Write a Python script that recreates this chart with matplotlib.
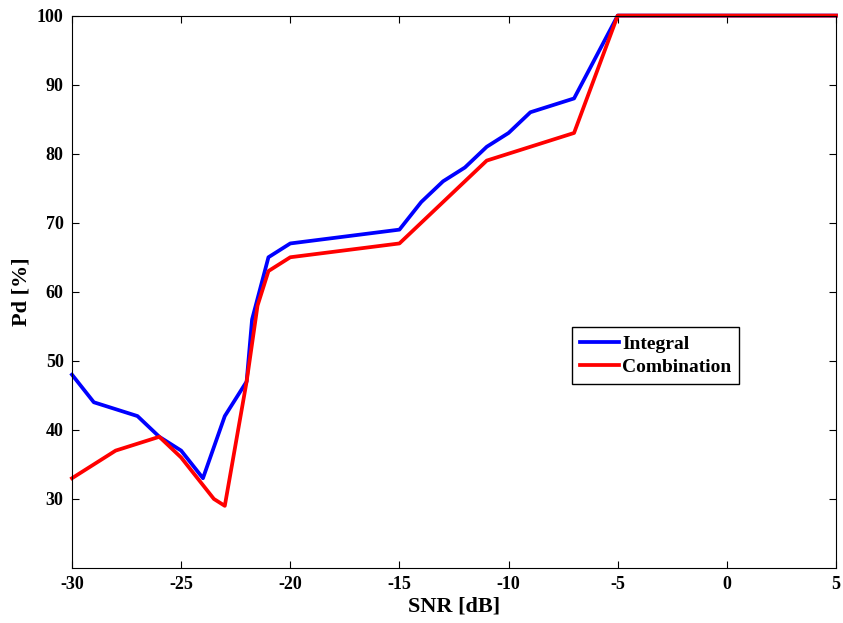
import matplotlib.pyplot as plt

plt.rcParams['font.family'] = 'Liberation Serif'
plt.rcParams['font.weight'] = 'bold'
plt.rcParams['axes.unicode_minus'] = False

# Data
snr_integral = [-30, -29, -27, -26, -25, -24, -23, -22, -21.75, -21, -20, -15,
                -14, -13, -12, -11, -10, -9, -7, -5, 0, 5]
pd_integral = [48, 44, 42, 39, 37, 33, 42, 47, 56, 65, 67, 69,
               73, 76, 78, 81, 83, 86, 88, 100, 100, 100]

snr_combination = [-30, -28, -27, -26, -25, -23.5, -23, -22, -21.5, -21, -20,
                   -15, -11, -7, -5, 0, 5]
pd_combination = [33, 37, 38, 39, 36, 30, 29, 47, 58, 63, 65,
                  67, 79, 83, 100, 100, 100]

fig = plt.figure(figsize=(8.43, 6.23), dpi=100)
ax = fig.add_axes([0.0854, 0.0883, 0.9063, 0.8867])

ax.plot(snr_integral, pd_integral, color='#0000ff', lw=2.7, label='Integral',
        clip_on=False)
ax.plot(snr_combination, pd_combination, color='#ff0000', lw=2.7,
        label='Combination', clip_on=False)

ax.set_xlim(-30, 5)
ax.set_ylim(20, 100)
ax.set_xticks(range(-30, 6, 5))
ax.set_yticks(range(30, 101, 10))
ax.tick_params(direction='in', length=5, top=True, right=True, labelsize=13,
               pad=6)
for lab in ax.get_xticklabels() + ax.get_yticklabels():
    lab.set_fontweight('bold')

ax.set_xlabel('SNR [dB]', fontsize=16, fontweight='bold', labelpad=2)
ax.set_ylabel('Pd [%]', fontsize=16, fontweight='bold', labelpad=4)

leg = ax.legend(loc='lower left', bbox_to_anchor=(0.655, 0.333),
                borderaxespad=0, fontsize=14, fancybox=False,
                edgecolor='black', handlelength=2.0, handletextpad=0.15,
                borderpad=0.4, labelspacing=0.3, framealpha=1)
leg.get_frame().set_linewidth(1.0)
for t in leg.get_texts():
    t.set_fontweight('bold')

fig.savefig('out.png', dpi=100)
